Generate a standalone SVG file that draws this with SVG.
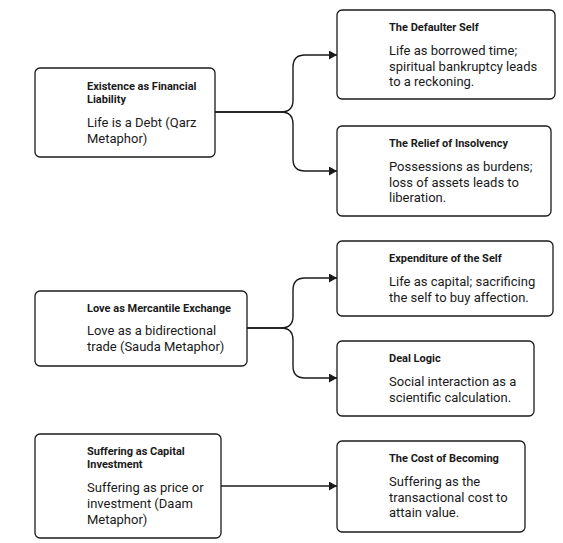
<svg xmlns="http://www.w3.org/2000/svg" width="563" height="543" viewBox="0 0 563 543">
<style>
.box{fill:#fff;stroke:#1a1a1a;stroke-width:1.3}
.t{font-family:Roboto,"Liberation Sans",sans-serif;font-size:11px;font-weight:700;fill:#1a1a1a}
.b{font-family:Roboto,"Liberation Sans",sans-serif;font-size:13px;fill:#1a1a1a}
.c{fill:none;stroke:#1a1a1a;stroke-width:1.4}
</style>
<defs>
<marker id="arr" markerWidth="9" markerHeight="9" refX="8" refY="4.5" orient="auto" markerUnits="userSpaceOnUse">
<path d="M0,0 L8,4.5 L0,9 Z" fill="#1a1a1a"/>
</marker>
</defs>
<rect width="563" height="543" fill="#fff"/>
<g id="connectors">
<path class="c" d="M215,112 H281 Q293,112 293,100 V67 Q293,55 305,55 H337" marker-end="url(#arr)"/>
<path class="c" d="M215,112 H281 Q293,112 293,124 V159 Q293,171 305,171 H337" marker-end="url(#arr)"/>
<path class="c" d="M247,328 H281 Q293,328 293,316 V290 Q293,278 305,278 H337" marker-end="url(#arr)"/>
<path class="c" d="M247,328 H281 Q293,328 293,340 V366 Q293,378 305,378 H337" marker-end="url(#arr)"/>
<path class="c" d="M221,486 H337" marker-end="url(#arr)"/>
</g>
<g id="n1">
<rect class="box" x="35" y="68" width="180" height="89" rx="5"/>
<text class="t" x="87" y="90">Existence as Financial</text>
<text class="t" x="87" y="103">Liability</text>
<text class="b" x="87" y="127">Life is a Debt (Qarz</text>
<text class="b" x="87" y="143">Metaphor)</text>
</g>
<g id="n2">
<rect class="box" x="337" y="10" width="218" height="89" rx="5"/>
<text class="t" x="389" y="31">The Defaulter Self</text>
<text class="b" x="389" y="55">Life as borrowed time;</text>
<text class="b" x="389" y="70.6">spiritual bankruptcy leads</text>
<text class="b" x="389" y="86.2">to a reckoning.</text>
</g>
<g id="n3">
<rect class="box" x="337" y="126" width="214" height="90" rx="5"/>
<text class="t" x="389" y="147">The Relief of Insolvency</text>
<text class="b" x="389" y="171">Possessions as burdens;</text>
<text class="b" x="389" y="186.6">loss of assets leads to</text>
<text class="b" x="389" y="202.2">liberation.</text>
</g>
<g id="n4">
<rect class="box" x="35" y="291" width="212" height="75" rx="5"/>
<text class="t" x="87" y="312">Love as Mercantile Exchange</text>
<text class="b" x="87" y="335">Love as a bidirectional</text>
<text class="b" x="87" y="350.6">trade (Sauda Metaphor)</text>
</g>
<g id="n5">
<rect class="box" x="337" y="241" width="216" height="75" rx="5"/>
<text class="t" x="389" y="262">Expenditure of the Self</text>
<text class="b" x="389" y="286">Life as capital; sacrificing</text>
<text class="b" x="389" y="301.6">the self to buy affection.</text>
</g>
<g id="n6">
<rect class="box" x="337" y="341" width="197" height="75" rx="5"/>
<text class="t" x="389" y="362">Deal Logic</text>
<text class="b" x="389" y="386">Social interaction as a</text>
<text class="b" x="389" y="401.6">scientific calculation.</text>
</g>
<g id="n7">
<rect class="box" x="35" y="434" width="186" height="104" rx="5"/>
<text class="t" x="87" y="455">Suffering as Capital</text>
<text class="t" x="87" y="468">Investment</text>
<text class="b" x="87" y="492">Suffering as price or</text>
<text class="b" x="87" y="508">investment (Daam</text>
<text class="b" x="87" y="524">Metaphor)</text>
</g>
<g id="n8">
<rect class="box" x="337" y="441" width="188" height="91" rx="5"/>
<text class="t" x="389" y="462">The Cost of Becoming</text>
<text class="b" x="389" y="486">Suffering as the</text>
<text class="b" x="389" y="501.6">transactional cost to</text>
<text class="b" x="389" y="517.2">attain value.</text>
</g>
</svg>
